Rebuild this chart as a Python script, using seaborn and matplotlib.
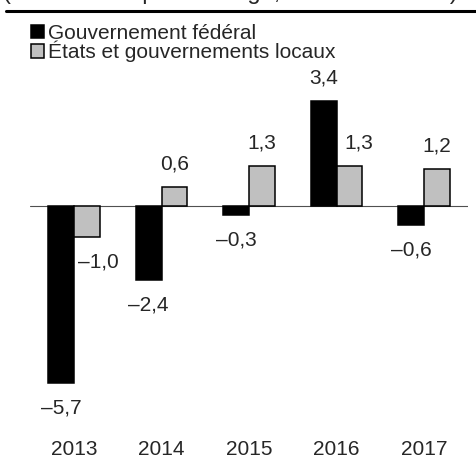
import matplotlib
matplotlib.use("Agg")
import matplotlib.pyplot as plt
from matplotlib.lines import Line2D
import pandas as pd
import seaborn as sns

years = ["2013", "2014", "2015", "2016", "2017"]
federal = [-5.7, -2.4, -0.3, 3.4, -0.6]
local = [-1.0, 0.6, 1.3, 1.3, 1.2]
series = ["Gouvernement fédéral", "États et gouvernements locaux"]

df = pd.DataFrame({
    "year": years * 2,
    "value": federal + local,
    "series": [series[0]] * 5 + [series[1]] * 5,
})

sns.set_style("white")
plt.rcParams["font.family"] = ["Liberation Sans", "DejaVu Sans"]
plt.rcParams["font.size"] = 15

W, H = 476, 461
fig = plt.figure(figsize=(W / 100, H / 100), dpi=100)

# axes placement in pixels
left_px, right_px = 30.25, 467.75
top_px, bottom_px = 95, 436
zero_px, px_per_unit = 206, 31.0
ax = fig.add_axes([left_px / W, 1 - bottom_px / H,
                   (right_px - left_px) / W, (bottom_px - top_px) / H])

sns.barplot(data=df, x="year", y="value", hue="series", order=years,
            hue_order=series, palette=["black", "#c0c0c0"], width=0.585,
            edgecolor="black", linewidth=1.1, ax=ax)

ax.set_xlim(-0.5, 4.5)
ax.set_ylim(-(bottom_px - zero_px) / px_per_unit, (zero_px - top_px) / px_per_unit)
ax.axhline(0, color="#505050", lw=0.8, zorder=0)

for s in ax.spines.values():
    s.set_visible(False)
ax.set_yticks([])
ax.set_xlabel("")
ax.set_ylabel("")
ax.tick_params(axis="x", length=0, pad=3, labelsize=15)

# value labels (some nudged sideways, in pixels)
extra_dx = {(1, 0): 12, (1, 3): 10}
for si, cont in enumerate(ax.containers):
    for i, bar in enumerate(cont):
        v = bar.get_height()
        xc = bar.get_x() + bar.get_width() / 2
        dx = extra_dx.get((si, i), 0) * 0.72
        dy = 16.5 if v >= 0 else -18
        txt = f"{v:.1f}".replace(".", ",").replace("-", "\u2013")
        ax.annotate(txt, (xc, v), xytext=(dx, dy), textcoords="offset points",
                    ha="center", va="center", fontsize=15)

handles, labels = ax.get_legend_handles_labels()
ax.get_legend().remove()
fig.legend(handles, labels, loc="upper left",
           bbox_to_anchor=(31 / W, 1 - 24 / H), frameon=False, fontsize=15,
           handlelength=0.6, handleheight=0.6, handletextpad=0.2,
           labelspacing=-0.1, borderpad=0, borderaxespad=0)

# subtitle cut by the top edge, as in the source, and the rule below it
fig.text(3 / W, 1 + 1 / H, "(Variation en pourcentage, en termes réels)",
         fontsize=17, va="baseline", ha="left")
fig.add_artist(Line2D([6 / W, 1], [1 - 11 / H, 1 - 11 / H], color="black",
                      lw=2.2, transform=fig.transFigure))

fig.savefig("out.png", dpi=100)
